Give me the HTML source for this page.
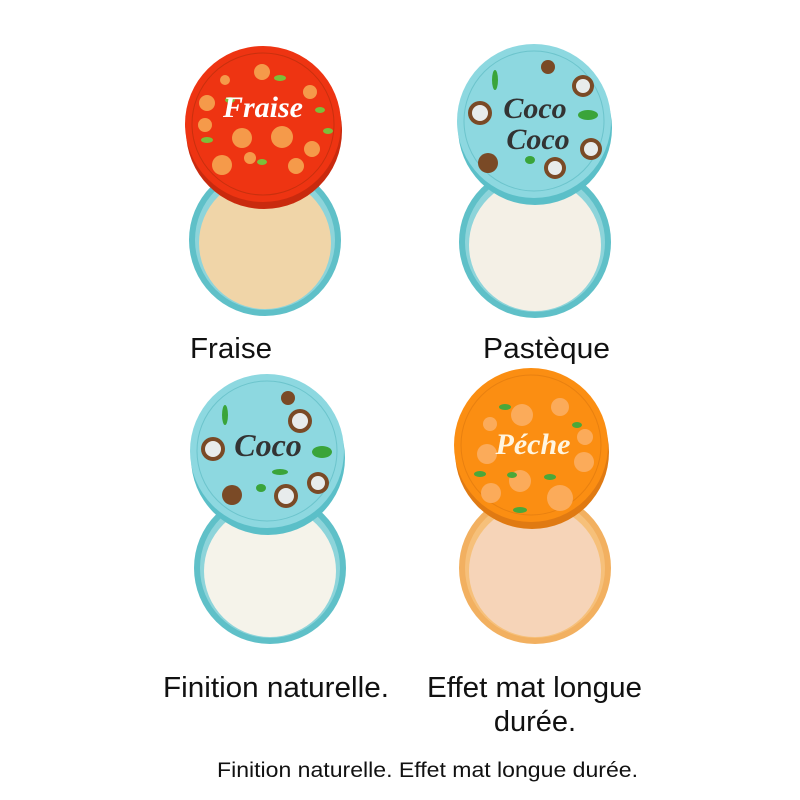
<!DOCTYPE html>
<html><head><meta charset="utf-8"><style>
html,body{margin:0;padding:0;background:#fff;width:800px;height:800px;overflow:hidden}
svg{display:block}
.lbl{font-family:"Liberation Sans",sans-serif;font-size:29px;fill:#111}
.scr{font-family:"Liberation Serif",serif;font-style:italic;font-weight:bold}
</style></head><body>
<svg width="800" height="800" viewBox="0 0 800 800">
<circle cx="265" cy="240" r="76" fill="#5fc0c8"/>
<circle cx="265" cy="240" r="70" fill="#8dd4da"/>
<circle cx="265" cy="243" r="66" fill="#f0d5a8"/>
<circle cx="264" cy="131" r="78" fill="#c92a0e"/>
<circle cx="263" cy="124" r="78" fill="#ee3412"/>
<circle cx="263" cy="124" r="71" fill="none" stroke="#c8300e" stroke-width="1"/>
<g fill="#f59a4a">
<circle cx="262" cy="72" r="8"/><circle cx="310" cy="92" r="7"/><circle cx="207" cy="103" r="8"/><circle cx="242" cy="138" r="10"/><circle cx="282" cy="137" r="11"/><circle cx="312" cy="149" r="8"/><circle cx="222" cy="165" r="10"/><circle cx="250" cy="158" r="6"/><circle cx="296" cy="166" r="8"/><circle cx="205" cy="125" r="7"/><circle cx="225" cy="80" r="5"/>
</g>
<g fill="#7cbf3a">
<ellipse cx="280" cy="78" rx="6" ry="3"/><ellipse cx="320" cy="110" rx="5" ry="3"/><ellipse cx="207" cy="140" rx="6" ry="3"/><ellipse cx="262" cy="162" rx="5" ry="3"/><ellipse cx="328" cy="131" rx="5" ry="3"/><ellipse cx="230" cy="100" rx="5" ry="3"/>
</g>
<text x="263" y="117" text-anchor="middle" class="scr" font-size="30" fill="#fff">Fraise</text>

<circle cx="535" cy="242" r="76" fill="#5fc0c8"/>
<circle cx="535" cy="242" r="70" fill="#8dd4da"/>
<circle cx="535" cy="245" r="66" fill="#f4f0e6"/>
<circle cx="535" cy="128" r="77" fill="#5bbfc8"/>
<circle cx="534" cy="121" r="77" fill="#8dd8e0"/>
<circle cx="534" cy="121" r="70" fill="none" stroke="#6cc4cc" stroke-width="1"/>
<g fill="#7a4a26"><circle cx="480" cy="113" r="12"/><circle cx="583" cy="86" r="11"/><circle cx="591" cy="149" r="11"/><circle cx="555" cy="168" r="11"/><circle cx="488" cy="163" r="10"/><circle cx="548" cy="67" r="7"/></g>
<g fill="#e8ecec"><circle cx="480" cy="113" r="8"/><circle cx="583" cy="86" r="7"/><circle cx="591" cy="149" r="7"/><circle cx="555" cy="168" r="7"/></g>
<g fill="#3aa43a"><ellipse cx="495" cy="80" rx="3" ry="10"/><ellipse cx="588" cy="115" rx="10" ry="5"/><ellipse cx="530" cy="160" rx="5" ry="4"/></g>
<text x="535" y="118" text-anchor="middle" class="scr" font-size="30" fill="#333">Coco</text>
<text x="538" y="149" text-anchor="middle" class="scr" font-size="30" fill="#333">Coco</text>

<circle cx="270" cy="568" r="76" fill="#5fc0c8"/>
<circle cx="270" cy="568" r="70" fill="#8dd4da"/>
<circle cx="270" cy="571" r="66" fill="#f5f3ea"/>
<circle cx="268" cy="458" r="77" fill="#5bbfc8"/>
<circle cx="267" cy="451" r="77" fill="#8dd8e0"/>
<circle cx="267" cy="451" r="70" fill="none" stroke="#6cc4cc" stroke-width="1"/>
<g fill="#7a4a26"><circle cx="213" cy="449" r="12"/><circle cx="300" cy="421" r="12"/><circle cx="318" cy="483" r="11"/><circle cx="286" cy="496" r="12"/><circle cx="232" cy="495" r="10"/><circle cx="288" cy="398" r="7"/></g>
<g fill="#e8ecec"><circle cx="213" cy="449" r="8"/><circle cx="300" cy="421" r="8"/><circle cx="318" cy="483" r="7"/><circle cx="286" cy="496" r="8"/></g>
<g fill="#3aa43a"><ellipse cx="225" cy="415" rx="3" ry="10"/><ellipse cx="322" cy="452" rx="10" ry="6"/><ellipse cx="261" cy="488" rx="5" ry="4"/><ellipse cx="280" cy="472" rx="8" ry="3"/></g>
<text x="268" y="456" text-anchor="middle" class="scr" font-size="32" fill="#333">Coco</text>

<circle cx="535" cy="568" r="76" fill="#f2b060"/>
<circle cx="535" cy="568" r="70" fill="#f6c07a"/>
<circle cx="535" cy="571" r="66" fill="#f6d4b8"/>
<circle cx="532" cy="452" r="77" fill="#e07a12"/>
<circle cx="531" cy="445" r="77" fill="#fb8e12"/>
<circle cx="531" cy="445" r="70" fill="none" stroke="#e88010" stroke-width="1"/>
<g fill="#fbab5a"><circle cx="522" cy="415" r="11"/><circle cx="560" cy="407" r="9"/><circle cx="487" cy="454" r="10"/><circle cx="520" cy="481" r="11"/><circle cx="491" cy="493" r="10"/><circle cx="560" cy="498" r="13"/><circle cx="584" cy="462" r="10"/><circle cx="585" cy="437" r="8"/><circle cx="490" cy="424" r="7"/></g>
<g fill="#4aa83a"><ellipse cx="505" cy="407" rx="6" ry="3"/><ellipse cx="577" cy="425" rx="5" ry="3"/><ellipse cx="480" cy="474" rx="6" ry="3"/><ellipse cx="512" cy="475" rx="5" ry="3"/><ellipse cx="550" cy="477" rx="6" ry="3"/><ellipse cx="520" cy="510" rx="7" ry="3"/></g>
<text x="533" y="454" text-anchor="middle" class="scr" font-size="30" fill="#fff5e0">Péche</text>

<text x="190" y="358" class="lbl" textLength="82" lengthAdjust="spacingAndGlyphs">Fraise</text>
<text x="483" y="358" class="lbl" textLength="127" lengthAdjust="spacingAndGlyphs">Pastèque</text>
<text x="163" y="697" class="lbl" textLength="226" lengthAdjust="spacingAndGlyphs">Finition naturelle.</text>
<text x="427" y="697" class="lbl" textLength="215" lengthAdjust="spacingAndGlyphs">Effet mat longue</text>
<text x="535" y="731" text-anchor="middle" class="lbl">durée.</text>
<text x="217" y="777" font-family="Liberation Sans, sans-serif" font-size="21" fill="#111" textLength="421" lengthAdjust="spacingAndGlyphs">Finition naturelle. Effet mat longue durée.</text>
</svg>
</body></html>
